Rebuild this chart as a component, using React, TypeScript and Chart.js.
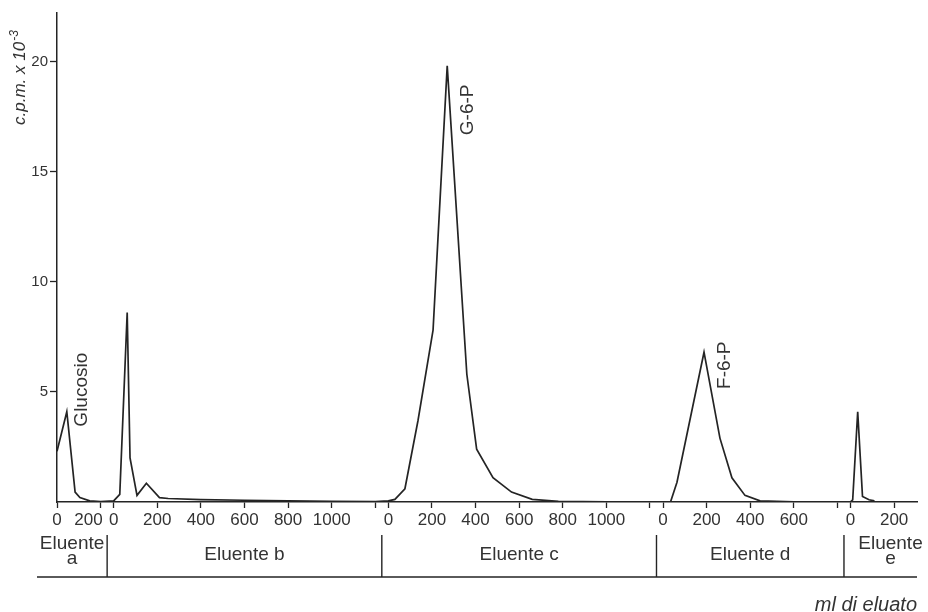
import { useEffect, useRef } from "react";
import { Chart, registerables } from "chart.js";

Chart.register(...registerables);

// Radioactivity (c.p.m. x 10^-3) against elution volume (ml), one run per eluent
const eluentNames = ["a", "b", "c", "d", "e"];

const mlA = [0, 45, 83, 105, 150, 200];
const cpmA = [2.3, 4.1, 0.45, 0.2, 0.05, 0.02];

const mlB = [0, 28, 62, 75, 107, 150, 210, 250, 400, 600, 800, 1000, 1200];
const cpmB = [0.05, 0.35, 8.6, 2.0, 0.3, 0.85, 0.2, 0.16, 0.11, 0.08, 0.05, 0.03, 0.02];

const mlC = [0, 30, 76, 136, 205, 270, 360, 405, 480, 565, 660, 780, 1000, 1200];
const cpmC = [0.05, 0.12, 0.6, 3.7, 7.8, 19.8, 5.8, 2.4, 1.1, 0.45, 0.12, 0.03, 0.01, 0.01];

const mlD = [0, 35, 64, 188, 261, 316, 376, 445, 600, 800];
const cpmD = [0.01, 0.02, 0.9, 6.8, 2.9, 1.1, 0.3, 0.05, 0.01, 0.01];

const mlE = [0, 10, 33, 55, 85, 110];
const cpmE = [0.01, 0.1, 4.1, 0.25, 0.1, 0.05];

// Tick marks of each eluent's own volume axis (empty label = unlabelled mark)
const ticksA = [0, 200];
const ticksB = [0, 200, 400, 600, 800, 1000, 1200];
const ticksC = [0, 200, 400, 600, 800, 1000, 1200];
const ticksD = [0, 200, 400, 600, 800];
const ticksE = [0, 200];
const tickLabelsA = ["0", "200"];
const tickLabelsB = ["0", "200", "400", "600", "800", "1000", ""];
const tickLabelsC = ["0", "200", "400", "600", "800", "1000", ""];
const tickLabelsD = ["0", "200", "400", "600", ""];
const tickLabelsE = ["0", "200"];

// Volume range covered by each eluent on the shared axis
const segmentSpans = [200, 1200, 1200, 800, 305];
const segmentGap = 60;

const yTicks = [5, 10, 15, 20];
const yMax = 22.2;

// Compound names written beside their peaks
const peakNames = ["Glucosio", "G-6-P", "F-6-P"];
const peakSegments = [0, 2, 3];

const yTitle = "c.p.m. x 10";
const yTitleExp = "-3";
const xTitle = "ml di eluato";
const eluentWord = "Eluente";

const FONT = "'Liberation Sans', Arial, sans-serif";
const INK = "#242424";
const TEXT = "#333333";

const segmentOffsets = segmentSpans.map((_, i) =>
  segmentSpans.slice(0, i).reduce((s, v) => s + v + segmentGap, 0)
);
const xMax = segmentOffsets[4] + segmentSpans[4];

const segMl = [mlA, mlB, mlC, mlD, mlE];
const segCpm = [cpmA, cpmB, cpmC, cpmD, cpmE];
const segTicks = [ticksA, ticksB, ticksC, ticksD, ticksE];
const segTickLabels = [tickLabelsA, tickLabelsB, tickLabelsC, tickLabelsD, tickLabelsE];

const points = segMl.flatMap((mls, i) =>
  mls.map((ml, k) => ({ x: segmentOffsets[i] + ml, y: segCpm[i][k] }))
);

const xTickItems = segTicks.flatMap((ts, i) =>
  ts.map((v, k) => ({ value: segmentOffsets[i] + v, label: segTickLabels[i][k] }))
);

// Where each peak name sits relative to the peak top (px)
const peakLabelOffsets = [
  { dx: 15, dy: -22 },
  { dx: 21, dy: 44 },
  { dx: 21, dy: 13 },
];

const overlayPlugin = {
  id: "chromatogramOverlay",
  afterDraw(chart: any) {
    const { ctx, chartArea } = chart;
    const xs = chart.scales.x;
    const ys = chart.scales.y;
    ctx.save();
    ctx.fillStyle = TEXT;
    ctx.strokeStyle = INK;

    // volume tick labels
    ctx.font = `17px ${FONT}`;
    ctx.textBaseline = "alphabetic";
    xTickItems.forEach((t, k) => {
      if (!t.label) return;
      const px = xs.getPixelForValue(t.value);
      const next = xTickItems[k + 1];
      const crowded = next && next.label && xs.getPixelForValue(next.value) - px < 25;
      ctx.textAlign = crowded ? "right" : "center";
      ctx.fillText(t.label, crowded ? px + 2 : px, chartArea.bottom + 23);
    });

    // eluent band below the axis
    const bandTop = chartArea.bottom + 33;
    const bandBottom = chartArea.bottom + 75;
    const bandLeft = chartArea.left - 20;
    const bandRight = chartArea.right;
    ctx.lineWidth = 1.4;
    ctx.beginPath();
    ctx.moveTo(bandLeft, bandBottom);
    ctx.lineTo(bandRight, bandBottom);
    const seps = segmentOffsets.slice(1).map((o) => xs.getPixelForValue(o - segmentGap / 2));
    seps.forEach((sx) => {
      ctx.moveTo(sx, bandTop);
      ctx.lineTo(sx, bandBottom);
    });
    ctx.stroke();

    const edges = [bandLeft, ...seps, bandRight + 20];
    ctx.font = `19px ${FONT}`;
    ctx.textAlign = "center";
    eluentNames.forEach((name, i) => {
      const cx = (edges[i] + edges[i + 1]) / 2;
      const width = edges[i + 1] - edges[i];
      if (width < 120) {
        ctx.fillText(eluentWord, cx, chartArea.bottom + 47);
        ctx.fillText(name, cx, chartArea.bottom + 62);
      } else {
        ctx.fillText(`${eluentWord} ${name}`, cx, chartArea.bottom + 58);
      }
    });

    // peak names, written upwards
    peakNames.forEach((name, j) => {
      const s = peakSegments[j];
      const cpm = segCpm[s];
      let top = 0;
      cpm.forEach((v, k) => {
        if (v > cpm[top]) top = k;
      });
      const px = xs.getPixelForValue(segmentOffsets[s] + segMl[s][top]);
      const py = ys.getPixelForValue(cpm[top]);
      ctx.save();
      ctx.translate(px + peakLabelOffsets[j].dx, py + peakLabelOffsets[j].dy);
      ctx.rotate(-Math.PI / 2);
      ctx.font = `19px ${FONT}`;
      ctx.textAlign = "center";
      ctx.textBaseline = "middle";
      ctx.fillText(name, 0, 0);
      ctx.restore();
    });

    // y axis title with exponent
    ctx.save();
    ctx.translate(chartArea.left - 32, chartArea.top + 112);
    ctx.rotate(-Math.PI / 2);
    ctx.font = `italic 17px ${FONT}`;
    ctx.textAlign = "left";
    ctx.textBaseline = "alphabetic";
    ctx.fillText(yTitle, 0, 0);
    const w = ctx.measureText(yTitle).width;
    ctx.font = `italic 12px ${FONT}`;
    ctx.fillText(yTitleExp, w + 1, -7);
    ctx.restore();

    // x axis title
    ctx.font = `italic 20px ${FONT}`;
    ctx.textAlign = "right";
    ctx.textBaseline = "alphabetic";
    ctx.fillText(xTitle, chartArea.right, chartArea.bottom + 109);

    ctx.restore();
  },
};

export default function App() {
  const canvasRef = useRef<HTMLCanvasElement | null>(null);

  useEffect(() => {
    const canvas = canvasRef.current;
    if (!canvas) return;
    const chart = new Chart(canvas, {
      type: "line",
      data: {
        datasets: [
          {
            data: points,
            borderColor: INK,
            borderWidth: 1.7,
            pointRadius: 0,
            tension: 0,
            fill: false,
          },
        ],
      },
      options: {
        animation: false,
        responsive: false,
        maintainAspectRatio: false,
        layout: { padding: { left: 0, top: 13, right: 11, bottom: 0 } },
        plugins: {
          legend: { display: false },
          tooltip: { enabled: false },
        },
        scales: {
          x: {
            type: "linear",
            min: 0,
            max: xMax,
            afterBuildTicks: (s: any) => {
              s.ticks = xTickItems.map((t) => ({ value: t.value }));
            },
            afterFit: (s: any) => {
              s.height = 110;
            },
            grid: {
              drawOnChartArea: false,
              drawTicks: true,
              tickLength: 6,
              tickColor: INK,
              tickWidth: 1.3,
            },
            border: { display: true, color: INK, width: 1.5 },
            ticks: { display: false },
          },
          y: {
            type: "linear",
            min: 0,
            max: yMax,
            afterBuildTicks: (s: any) => {
              s.ticks = yTicks.map((v) => ({ value: v }));
            },
            afterFit: (s: any) => {
              s.width = 57;
            },
            grid: {
              drawOnChartArea: false,
              drawTicks: true,
              tickLength: 7,
              tickColor: INK,
              tickWidth: 1.3,
            },
            border: { display: true, color: INK, width: 1.5 },
            ticks: {
              color: TEXT,
              padding: 2,
              font: { family: FONT, size: 15 },
              callback: (v: any) => String(v),
            },
          },
        },
      },
      plugins: [overlayPlugin],
    });
    return () => chart.destroy();
  }, []);

  return (
    <div style={{ position: "absolute", left: 0, top: 0, width: 928, height: 612, background: "#fff" }}>
      <canvas ref={canvasRef} width={928} height={612} />
    </div>
  );
}
